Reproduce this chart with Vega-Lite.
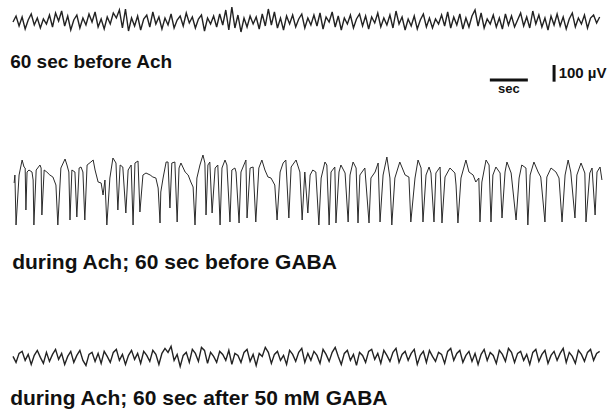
{
"$schema":"https://vega.github.io/schema/vega-lite/v6.json",
"padding":{"left":10,"top":0,"right":0,"bottom":0},
"background":"white",
"spacing":0,
"bounds":"flush",
"config":{"view":{"stroke":null},"title":{"font":"Liberation Sans","fontSize":21,"fontWeight":"bold","color":"#111","anchor":"start"}},
"datasets":{
"trace1":[{"t":0,"v":0},{"t":0.08,"v":30},{"t":0.16,"v":-20},{"t":0.24,"v":25},{"t":0.32,"v":-35},{"t":0.4,"v":10},{"t":0.48,"v":40},{"t":0.56,"v":-15},{"t":0.64,"v":20},{"t":0.72,"v":-30},{"t":0.8,"v":15},{"t":0.88,"v":-10},{"t":0.96,"v":35},{"t":1.04,"v":-25},{"t":1.12,"v":45},{"t":1.2,"v":5},{"t":1.28,"v":55},{"t":1.36,"v":-20},{"t":1.44,"v":30},{"t":1.52,"v":-40},{"t":1.6,"v":10},{"t":1.68,"v":35},{"t":1.76,"v":-30},{"t":1.84,"v":20},{"t":1.92,"v":-15},{"t":2,"v":40},{"t":2.08,"v":0},{"t":2.16,"v":50},{"t":2.24,"v":-25},{"t":2.32,"v":15},{"t":2.4,"v":-35},{"t":2.48,"v":25},{"t":2.56,"v":-10},{"t":2.64,"v":45},{"t":2.72,"v":20},{"t":2.8,"v":60},{"t":2.88,"v":-30},{"t":2.96,"v":65},{"t":3.04,"v":-45},{"t":3.12,"v":20},{"t":3.2,"v":-20},{"t":3.28,"v":30},{"t":3.36,"v":-40},{"t":3.44,"v":15},{"t":3.52,"v":35},{"t":3.6,"v":-25},{"t":3.68,"v":50},{"t":3.76,"v":-10},{"t":3.84,"v":25},{"t":3.92,"v":-35},{"t":4,"v":20},{"t":4.08,"v":-15},{"t":4.16,"v":40},{"t":4.24,"v":-30},{"t":4.32,"v":10},{"t":4.4,"v":30},{"t":4.48,"v":-20},{"t":4.56,"v":45},{"t":4.64,"v":-5},{"t":4.72,"v":25},{"t":4.8,"v":-30},{"t":4.88,"v":15},{"t":4.96,"v":35},{"t":5.04,"v":-45},{"t":5.12,"v":20},{"t":5.2,"v":-10},{"t":5.28,"v":30},{"t":5.36,"v":-25},{"t":5.44,"v":40},{"t":5.52,"v":-15},{"t":5.6,"v":60},{"t":5.68,"v":-40},{"t":5.76,"v":75},{"t":5.84,"v":-30},{"t":5.92,"v":35},{"t":6,"v":-50},{"t":6.08,"v":20},{"t":6.16,"v":-25},{"t":6.24,"v":30},{"t":6.32,"v":-10},{"t":6.4,"v":25},{"t":6.48,"v":-35},{"t":6.56,"v":40},{"t":6.64,"v":-20},{"t":6.72,"v":65},{"t":6.8,"v":-15},{"t":6.88,"v":50},{"t":6.96,"v":-30},{"t":7.04,"v":20},{"t":7.12,"v":-40},{"t":7.2,"v":30},{"t":7.28,"v":-10},{"t":7.36,"v":35},{"t":7.44,"v":-25},{"t":7.52,"v":15},{"t":7.6,"v":40},{"t":7.68,"v":-30},{"t":7.76,"v":20},{"t":7.84,"v":-15},{"t":7.92,"v":35},{"t":8,"v":-20},{"t":8.08,"v":45},{"t":8.16,"v":-35},{"t":8.24,"v":25},{"t":8.32,"v":0},{"t":8.4,"v":50},{"t":8.48,"v":-25},{"t":8.56,"v":30},{"t":8.64,"v":-40},{"t":8.72,"v":20},{"t":8.8,"v":-10},{"t":8.88,"v":35},{"t":8.96,"v":-30},{"t":9.04,"v":15},{"t":9.12,"v":40},{"t":9.2,"v":-20},{"t":9.28,"v":30},{"t":9.36,"v":-35},{"t":9.44,"v":25},{"t":9.52,"v":-5},{"t":9.6,"v":45},{"t":9.68,"v":-25},{"t":9.76,"v":20},{"t":9.84,"v":-15},{"t":9.92,"v":35},{"t":10,"v":-30},{"t":10.08,"v":55},{"t":10.16,"v":-10},{"t":10.24,"v":25},{"t":10.32,"v":-40},{"t":10.4,"v":15},{"t":10.48,"v":-20},{"t":10.56,"v":30},{"t":10.64,"v":-35},{"t":10.72,"v":10},{"t":10.8,"v":40},{"t":10.88,"v":-25},{"t":10.96,"v":20},{"t":11.04,"v":-30},{"t":11.12,"v":15},{"t":11.2,"v":-10},{"t":11.28,"v":35},{"t":11.36,"v":-20},{"t":11.44,"v":50},{"t":11.52,"v":-30},{"t":11.6,"v":25},{"t":11.68,"v":-15},{"t":11.76,"v":40},{"t":11.84,"v":-35},{"t":11.92,"v":20},{"t":12,"v":-25},{"t":12.08,"v":30},{"t":12.16,"v":60},{"t":12.24,"v":-20},{"t":12.32,"v":45},{"t":12.4,"v":-30},{"t":12.48,"v":15},{"t":12.56,"v":-10},{"t":12.64,"v":35},{"t":12.72,"v":-25},{"t":12.8,"v":20},{"t":12.88,"v":-35},{"t":12.96,"v":40},{"t":13.04,"v":-15},{"t":13.12,"v":30},{"t":13.2,"v":-25},{"t":13.28,"v":10},{"t":13.36,"v":45},{"t":13.44,"v":-20},{"t":13.52,"v":25},{"t":13.6,"v":-30},{"t":13.68,"v":55},{"t":13.76,"v":-10},{"t":13.84,"v":35},{"t":13.92,"v":-25},{"t":14,"v":20},{"t":14.08,"v":-40},{"t":14.16,"v":30},{"t":14.24,"v":-15},{"t":14.32,"v":40},{"t":14.4,"v":-20},{"t":14.48,"v":25},{"t":14.56,"v":-35},{"t":14.64,"v":15},{"t":14.72,"v":45},{"t":14.8,"v":-25},{"t":14.88,"v":20},{"t":14.96,"v":-10},{"t":15.04,"v":35},{"t":15.12,"v":-30},{"t":15.2,"v":20},{"t":15.28,"v":35},{"t":15.36,"v":-5},{"t":15.44,"v":25}],
"trace2":[{"t":0.03,"v":12},{"t":0.05,"v":60},{"t":0.08,"v":-240},{"t":0.16,"v":60},{"t":0.24,"v":150},{"t":0.29,"v":108},{"t":0.32,"v":102},{"t":0.34,"v":-150},{"t":0.37,"v":78},{"t":0.42,"v":90},{"t":0.5,"v":78},{"t":0.53,"v":30},{"t":0.55,"v":-240},{"t":0.61,"v":90},{"t":0.71,"v":120},{"t":0.74,"v":102},{"t":0.76,"v":-180},{"t":0.82,"v":90},{"t":0.89,"v":78},{"t":0.97,"v":60},{"t":1.05,"v":48},{"t":1.13,"v":0},{"t":1.18,"v":-240},{"t":1.26,"v":102},{"t":1.37,"v":156},{"t":1.42,"v":120},{"t":1.47,"v":78},{"t":1.5,"v":-210},{"t":1.55,"v":90},{"t":1.63,"v":78},{"t":1.68,"v":-192},{"t":1.74,"v":102},{"t":1.79,"v":108},{"t":1.84,"v":78},{"t":1.89,"v":-210},{"t":1.95,"v":120},{"t":2.05,"v":138},{"t":2.11,"v":150},{"t":2.16,"v":90},{"t":2.24,"v":18},{"t":2.32,"v":12},{"t":2.37,"v":-60},{"t":2.42,"v":30},{"t":2.47,"v":-240},{"t":2.55,"v":42},{"t":2.63,"v":162},{"t":2.71,"v":132},{"t":2.76,"v":-150},{"t":2.82,"v":120},{"t":2.89,"v":108},{"t":2.97,"v":-168},{"t":3.03,"v":90},{"t":3.11,"v":120},{"t":3.16,"v":-240},{"t":3.21,"v":132},{"t":3.29,"v":144},{"t":3.34,"v":-162},{"t":3.42,"v":60},{"t":3.5,"v":72},{"t":3.61,"v":60},{"t":3.68,"v":48},{"t":3.76,"v":42},{"t":3.82,"v":-18},{"t":3.87,"v":-228},{"t":3.89,"v":-42},{"t":3.95,"v":42},{"t":4.03,"v":138},{"t":4.08,"v":138},{"t":4.13,"v":-138},{"t":4.18,"v":132},{"t":4.26,"v":138},{"t":4.32,"v":-222},{"t":4.37,"v":102},{"t":4.42,"v":132},{"t":4.53,"v":78},{"t":4.61,"v":60},{"t":4.68,"v":18},{"t":4.74,"v":-12},{"t":4.79,"v":-240},{"t":4.84,"v":42},{"t":4.92,"v":120},{"t":5,"v":180},{"t":5.05,"v":132},{"t":5.08,"v":-180},{"t":5.13,"v":120},{"t":5.18,"v":138},{"t":5.24,"v":-168},{"t":5.32,"v":102},{"t":5.39,"v":120},{"t":5.45,"v":-240},{"t":5.5,"v":102},{"t":5.58,"v":150},{"t":5.63,"v":120},{"t":5.71,"v":-222},{"t":5.76,"v":90},{"t":5.84,"v":102},{"t":5.87,"v":78},{"t":5.95,"v":-228},{"t":6,"v":78},{"t":6.13,"v":150},{"t":6.16,"v":-198},{"t":6.24,"v":102},{"t":6.32,"v":108},{"t":6.39,"v":-222},{"t":6.47,"v":102},{"t":6.55,"v":150},{"t":6.63,"v":90},{"t":6.71,"v":48},{"t":6.79,"v":42},{"t":6.89,"v":0},{"t":6.95,"v":-210},{"t":7.03,"v":78},{"t":7.11,"v":132},{"t":7.18,"v":150},{"t":7.26,"v":-198},{"t":7.32,"v":108},{"t":7.45,"v":150},{"t":7.55,"v":78},{"t":7.61,"v":-210},{"t":7.68,"v":78},{"t":7.76,"v":-168},{"t":7.82,"v":60},{"t":7.89,"v":90},{"t":7.97,"v":78},{"t":8.05,"v":-240},{"t":8.11,"v":42},{"t":8.21,"v":138},{"t":8.26,"v":120},{"t":8.32,"v":-240},{"t":8.37,"v":78},{"t":8.47,"v":108},{"t":8.5,"v":-228},{"t":8.58,"v":78},{"t":8.63,"v":120},{"t":8.74,"v":72},{"t":8.82,"v":-222},{"t":8.87,"v":60},{"t":8.95,"v":138},{"t":9.03,"v":102},{"t":9.08,"v":-228},{"t":9.13,"v":60},{"t":9.26,"v":102},{"t":9.37,"v":-228},{"t":9.42,"v":42},{"t":9.53,"v":78},{"t":9.61,"v":132},{"t":9.66,"v":-222},{"t":9.74,"v":60},{"t":9.84,"v":168},{"t":9.92,"v":42},{"t":9.97,"v":-240},{"t":10.05,"v":42},{"t":10.18,"v":138},{"t":10.32,"v":60},{"t":10.42,"v":48},{"t":10.47,"v":-222},{"t":10.58,"v":42},{"t":10.66,"v":150},{"t":10.74,"v":102},{"t":10.79,"v":-222},{"t":10.87,"v":60},{"t":10.95,"v":108},{"t":11,"v":72},{"t":11.08,"v":-222},{"t":11.13,"v":72},{"t":11.24,"v":108},{"t":11.29,"v":-228},{"t":11.37,"v":48},{"t":11.5,"v":102},{"t":11.63,"v":72},{"t":11.66,"v":0},{"t":11.71,"v":-228},{"t":11.79,"v":42},{"t":11.92,"v":150},{"t":12,"v":78},{"t":12.11,"v":60},{"t":12.18,"v":18},{"t":12.26,"v":42},{"t":12.29,"v":-222},{"t":12.34,"v":18},{"t":12.45,"v":150},{"t":12.53,"v":120},{"t":12.58,"v":-222},{"t":12.63,"v":60},{"t":12.71,"v":108},{"t":12.82,"v":72},{"t":12.87,"v":-198},{"t":12.95,"v":78},{"t":13,"v":138},{"t":13.11,"v":72},{"t":13.24,"v":-210},{"t":13.32,"v":42},{"t":13.39,"v":120},{"t":13.5,"v":102},{"t":13.55,"v":-240},{"t":13.61,"v":60},{"t":13.71,"v":138},{"t":13.82,"v":78},{"t":13.89,"v":48},{"t":14,"v":-222},{"t":14.05,"v":48},{"t":14.16,"v":102},{"t":14.29,"v":78},{"t":14.37,"v":42},{"t":14.45,"v":-222},{"t":14.53,"v":60},{"t":14.61,"v":150},{"t":14.68,"v":78},{"t":14.79,"v":-198},{"t":14.84,"v":60},{"t":14.95,"v":132},{"t":15.05,"v":72},{"t":15.08,"v":-222},{"t":15.18,"v":72},{"t":15.24,"v":102},{"t":15.32,"v":-180},{"t":15.37,"v":78},{"t":15.45,"v":108},{"t":15.5,"v":30}],
"trace3":[{"t":0,"v":10},{"t":0.08,"v":-20},{"t":0.16,"v":25},{"t":0.24,"v":35},{"t":0.32,"v":-10},{"t":0.4,"v":20},{"t":0.48,"v":-30},{"t":0.56,"v":15},{"t":0.64,"v":40},{"t":0.72,"v":5},{"t":0.8,"v":-25},{"t":0.88,"v":30},{"t":0.96,"v":-15},{"t":1.04,"v":20},{"t":1.12,"v":45},{"t":1.2,"v":-5},{"t":1.28,"v":25},{"t":1.36,"v":-30},{"t":1.44,"v":10},{"t":1.52,"v":35},{"t":1.6,"v":-20},{"t":1.68,"v":15},{"t":1.76,"v":40},{"t":1.84,"v":-10},{"t":1.92,"v":-35},{"t":2,"v":20},{"t":2.08,"v":30},{"t":2.16,"v":-15},{"t":2.24,"v":25},{"t":2.32,"v":-25},{"t":2.4,"v":35},{"t":2.48,"v":10},{"t":2.56,"v":-20},{"t":2.64,"v":30},{"t":2.72,"v":45},{"t":2.8,"v":-10},{"t":2.88,"v":20},{"t":2.96,"v":-30},{"t":3.04,"v":15},{"t":3.12,"v":40},{"t":3.2,"v":-5},{"t":3.28,"v":25},{"t":3.36,"v":-25},{"t":3.44,"v":35},{"t":3.52,"v":15},{"t":3.6,"v":-15},{"t":3.68,"v":40},{"t":3.76,"v":20},{"t":3.84,"v":-30},{"t":3.92,"v":25},{"t":4,"v":50},{"t":4.08,"v":30},{"t":4.16,"v":60},{"t":4.24,"v":-10},{"t":4.32,"v":20},{"t":4.4,"v":-40},{"t":4.48,"v":15},{"t":4.56,"v":30},{"t":4.64,"v":-20},{"t":4.72,"v":45},{"t":4.8,"v":25},{"t":4.88,"v":-15},{"t":4.96,"v":55},{"t":5.04,"v":40},{"t":5.12,"v":-25},{"t":5.2,"v":30},{"t":5.28,"v":10},{"t":5.36,"v":-20},{"t":5.44,"v":35},{"t":5.52,"v":20},{"t":5.6,"v":-10},{"t":5.68,"v":40},{"t":5.76,"v":-30},{"t":5.84,"v":25},{"t":5.92,"v":15},{"t":6,"v":-20},{"t":6.08,"v":30},{"t":6.16,"v":45},{"t":6.24,"v":-15},{"t":6.32,"v":20},{"t":6.4,"v":-35},{"t":6.48,"v":25},{"t":6.56,"v":10},{"t":6.64,"v":55},{"t":6.72,"v":30},{"t":6.8,"v":-25},{"t":6.88,"v":20},{"t":6.96,"v":35},{"t":7.04,"v":-10},{"t":7.12,"v":15},{"t":7.2,"v":-30},{"t":7.28,"v":40},{"t":7.36,"v":20},{"t":7.44,"v":-15},{"t":7.52,"v":30},{"t":7.6,"v":50},{"t":7.68,"v":-20},{"t":7.76,"v":25},{"t":7.84,"v":-10},{"t":7.92,"v":35},{"t":8,"v":15},{"t":8.08,"v":-25},{"t":8.16,"v":45},{"t":8.24,"v":20},{"t":8.32,"v":-15},{"t":8.4,"v":30},{"t":8.48,"v":55},{"t":8.56,"v":10},{"t":8.64,"v":-30},{"t":8.72,"v":25},{"t":8.8,"v":40},{"t":8.88,"v":-10},{"t":8.96,"v":20},{"t":9.04,"v":-35},{"t":9.12,"v":30},{"t":9.2,"v":15},{"t":9.28,"v":-20},{"t":9.36,"v":35},{"t":9.44,"v":45},{"t":9.52,"v":-5},{"t":9.6,"v":25},{"t":9.68,"v":-25},{"t":9.76,"v":40},{"t":9.84,"v":15},{"t":9.92,"v":-15},{"t":10,"v":30},{"t":10.08,"v":50},{"t":10.16,"v":-20},{"t":10.24,"v":20},{"t":10.32,"v":35},{"t":10.4,"v":-10},{"t":10.48,"v":25},{"t":10.56,"v":45},{"t":10.64,"v":-30},{"t":10.72,"v":15},{"t":10.8,"v":35},{"t":10.88,"v":-20},{"t":10.96,"v":40},{"t":11.04,"v":10},{"t":11.12,"v":-15},{"t":11.2,"v":30},{"t":11.28,"v":20},{"t":11.36,"v":-25},{"t":11.44,"v":35},{"t":11.52,"v":50},{"t":11.6,"v":-10},{"t":11.68,"v":25},{"t":11.76,"v":40},{"t":11.84,"v":-20},{"t":11.92,"v":15},{"t":12,"v":35},{"t":12.08,"v":-15},{"t":12.16,"v":25},{"t":12.24,"v":-30},{"t":12.32,"v":20},{"t":12.4,"v":45},{"t":12.48,"v":-10},{"t":12.56,"v":30},{"t":12.64,"v":15},{"t":12.72,"v":-25},{"t":12.8,"v":40},{"t":12.88,"v":20},{"t":12.96,"v":-15},{"t":13.04,"v":50},{"t":13.12,"v":30},{"t":13.2,"v":-20},{"t":13.28,"v":25},{"t":13.36,"v":35},{"t":13.44,"v":-10},{"t":13.52,"v":20},{"t":13.6,"v":-30},{"t":13.68,"v":30},{"t":13.76,"v":45},{"t":13.84,"v":-15},{"t":13.92,"v":20},{"t":14,"v":40},{"t":14.08,"v":-25},{"t":14.16,"v":15},{"t":14.24,"v":35},{"t":14.32,"v":-10},{"t":14.4,"v":25},{"t":14.48,"v":50},{"t":14.56,"v":-20},{"t":14.64,"v":30},{"t":14.72,"v":10},{"t":14.8,"v":-25},{"t":14.88,"v":40},{"t":14.96,"v":20},{"t":15.04,"v":-15},{"t":15.12,"v":30},{"t":15.2,"v":45},{"t":15.28,"v":-10},{"t":15.36,"v":25},{"t":15.44,"v":35}],
"vbar":[{"t":14.24,"v1":620,"v2":720}],
"hbar":[{"t1":12.55,"t2":13.55,"v":630}],
"seclabel":[{"t":13.05,"v":574,"label":"sec"}],
"uvlabel":[{"t":14.36,"v":672,"label":"100 µV"}]
},
"vconcat":[
{"width":603,"height":45,
 "title":{"text":"60 sec before Ach","orient":"bottom","offset":8,"fontSize":19},
 "data":{"name":"trace1"},
 "mark":{"type":"line","color":"#222","strokeWidth":1.4},
 "encoding":{"x":{"field":"t","type":"quantitative","scale":{"domain":[0,15.87]},"axis":null},
  "y":{"field":"v","type":"quantitative","scale":{"domain":[-115,110]},"axis":null}}},
{"width":603,"height":195,
 "title":{"text":"during Ach; 60 sec before GABA","orient":"bottom","offset":12},
 "layer":[
  {"data":{"name":"trace2"},
   "mark":{"type":"line","color":"#2b2b2b","strokeWidth":1},
   "encoding":{"x":{"field":"t","type":"quantitative","scale":{"domain":[0,15.87]},"axis":null},
    "y":{"field":"v","type":"quantitative","scale":{"domain":[-330,840]},"axis":null}}},
  {"data":{"name":"vbar"},
   "mark":{"type":"rule","color":"#111","strokeWidth":3},
   "encoding":{"x":{"field":"t","type":"quantitative","scale":{"domain":[0,15.87]},"axis":null},
    "y":{"field":"v1","type":"quantitative","scale":{"domain":[-330,840]},"axis":null},"y2":{"field":"v2"}}},
  {"data":{"name":"hbar"},
   "mark":{"type":"rule","color":"#111","strokeWidth":3},
   "encoding":{"x":{"field":"t1","type":"quantitative","scale":{"domain":[0,15.87]},"axis":null},"x2":{"field":"t2"},
    "y":{"field":"v","type":"quantitative","scale":{"domain":[-330,840]},"axis":null}}},
  {"data":{"name":"seclabel"},
   "mark":{"type":"text","font":"Liberation Sans","fontSize":13,"fontWeight":"bold","color":"#111","baseline":"middle","align":"center"},
   "encoding":{"x":{"field":"t","type":"quantitative","scale":{"domain":[0,15.87]},"axis":null},
    "y":{"field":"v","type":"quantitative","scale":{"domain":[-330,840]},"axis":null},
    "text":{"field":"label"}}},
  {"data":{"name":"uvlabel"},
   "mark":{"type":"text","font":"Liberation Sans","fontSize":15,"fontWeight":"bold","color":"#111","baseline":"middle","align":"left"},
   "encoding":{"x":{"field":"t","type":"quantitative","scale":{"domain":[0,15.87]},"axis":null},
    "y":{"field":"v","type":"quantitative","scale":{"domain":[-330,840]},"axis":null},
    "text":{"field":"label"}}}
 ]},
{"width":603,"height":140,
 "title":{"text":"during Ach; 60 sec after 50 mM GABA","orient":"bottom","offset":8},
 "data":{"name":"trace3"},
 "mark":{"type":"line","color":"#222","strokeWidth":1.4},
 "encoding":{"x":{"field":"t","type":"quantitative","scale":{"domain":[0,15.87]},"axis":null},
  "y":{"field":"v","type":"quantitative","scale":{"domain":[-108,592]},"axis":null}}}
]
}
